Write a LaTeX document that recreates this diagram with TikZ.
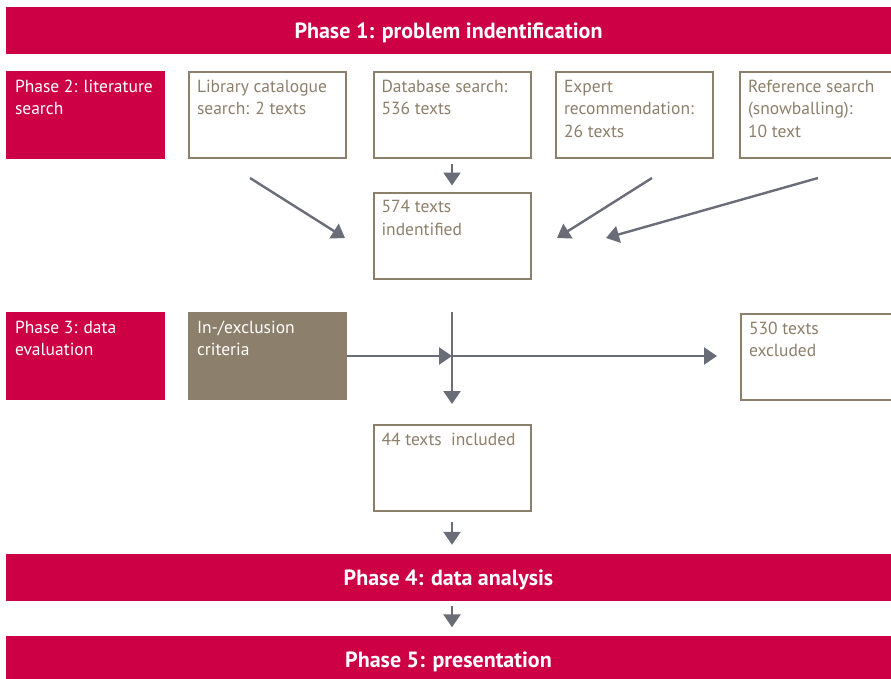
\documentclass[tikz,border=0pt]{standalone}
\usepackage{fontspec}
\setmainfont{PT Sans}
\usetikzlibrary{arrows.meta}

\definecolor{crimson}{RGB}{206,0,69}
\definecolor{tan}{RGB}{140,127,107}
\definecolor{arrowgray}{RGB}{106,109,119}

\newcommand{\boxtext}[1]{\parbox[c][70pt][t]{141pt}{\raggedright #1}}

\tikzset{
  phasebar/.style={fill=crimson, text=white, minimum width=885, minimum height=47, inner sep=0, text height=16pt, text depth=0pt, font=\bfseries\fontsize{22}{26}\selectfont},
  phasebox/.style={fill=crimson, text=white, minimum width=159, minimum height=88, inner sep=0, font=\fontsize{17.5}{22.5}\selectfont},
  tanbox/.style={draw=tan, line width=2pt, text=tan, minimum width=157, minimum height=86, inner sep=0, font=\fontsize{17.5}{22.5}\selectfont},
  critbox/.style={fill=tan, text=white, minimum width=159, minimum height=88, inner sep=0, font=\fontsize{17.5}{22.5}\selectfont},
  flow/.style={draw=arrowgray, line width=2.4pt, -{Triangle[width=17pt,length=13pt]}},
}

\begin{document}
\begin{tikzpicture}[x=1pt,y=-1pt]
\useasboundingbox (0,0) rectangle (891,678);

% phases
\node[phasebar] (p1) at (448.5,30.5) {Phase 1: problem indentification};
\node[phasebox] (p2) at (85.5,115) {\boxtext{Phase 2: literature\\ search}};
\node[phasebox] (p3) at (85.5,356) {\boxtext{Phase 3: data\\ evaluation}};
\node[phasebar] (p4) at (448.5,577.5) {Phase 4: data analysis};
\node[phasebar] (p5) at (448.5,659) {Phase 5: presentation};

% literature search
\node[tanbox] (lib) at (267.5,115) {\boxtext{Library catalogue\\ search: 2 texts}};
\node[tanbox] (db) at (452,115) {\boxtext{Database search:\\ 536 texts}};
\node[tanbox] (exp) at (634.5,115) {\boxtext{Expert\\ recommendation:\\ 26 texts}};
\node[tanbox] (ref) at (818.5,115) {\boxtext{Reference search\\ (snowballing):\\ 10 text}};
\node[tanbox] (ident) at (452,235.5) {\boxtext{574 texts\\ indentified}};

% evaluation
\node[critbox] (crit) at (267.5,356) {\boxtext{In-/exclusion\\ criteria}};
\node[tanbox] (excl) at (819.5,357) {\boxtext{530 texts\\ excluded}};
\node[tanbox] (incl) at (452,468) {\boxtext{44 texts~ included}};

\coordinate (libA) at (250,178);
\coordinate (libB) at (345,238);
\coordinate (expA) at (652,178);
\coordinate (expB) at (557,238);
\coordinate (refA) at (818,178);
\coordinate (refB) at (606,238);
\coordinate (splitT) at (452,312);
\coordinate (splitB) at (452,404);
\coordinate (split) at (452,356);

\draw[flow, shorten <=5pt, shorten >=6pt] (db.south) -- (ident.north);
\draw[flow] (libA) -- (libB);
\draw[flow] (expA) -- (expB);
\draw[flow] (refA) -- (refB);

\draw[flow] (splitT) -- (splitB);
\draw[flow] (crit.east) -- (split);
\draw[flow, shorten >=23pt] (split) -- (split -| excl.west);

\draw[flow, shorten <=10pt, shorten >=9pt] (incl.south) -- (incl.south |- p4.north);
\draw[flow, shorten <=5pt, shorten >=8pt] (incl.south |- p4.south) -- (incl.south |- p5.north);
\end{tikzpicture}
\end{document}
